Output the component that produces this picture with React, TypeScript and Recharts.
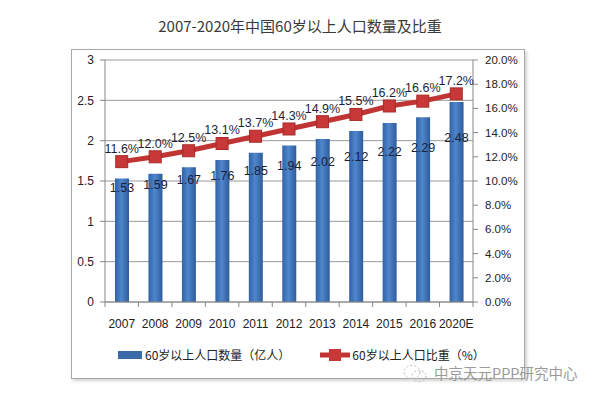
import {
  ComposedChart,
  Bar,
  Line,
  XAxis,
  YAxis,
  CartesianGrid,
  LabelList,
} from "recharts";

const years = ["2007", "2008", "2009", "2010", "2011", "2012", "2013", "2014", "2015", "2016", "2020E"];
const population = [1.53, 1.59, 1.67, 1.76, 1.85, 1.94, 2.02, 2.12, 2.22, 2.29, 2.48];
const share = [11.6, 12.0, 12.5, 13.1, 13.7, 14.3, 14.9, 15.5, 16.2, 16.6, 17.2];
const leftTicks = [0, 0.5, 1, 1.5, 2, 2.5, 3];
const rightTicks = [0, 2, 4, 6, 8, 10, 12, 14, 16, 18, 20];

const title = "2007-2020年中国60岁以上人口数量及比重";
const barName = "60岁以上人口数量（亿人）";
const lineName = "60岁以上人口比重（%）";
const watermark = "中京天元PPP研究中心";

const data = years.map((year, i) => ({
  year,
  population: population[i],
  share: share[i],
}));

const W = 600;
const H = 400;
const margin = { top: 60, right: 77, bottom: 68, left: 70 };
const leftAxisW = 35;
const rightAxisW = 50;
const plotW = W - margin.left - margin.right - leftAxisW - rightAxisW;
const band = plotW / years.length;

const font = "'Liberation Sans', Arial, sans-serif";
const cjk = "'Noto Sans CJK SC', sans-serif";
const red = "#c03434";

const YearTick = (props: any) => {
  const { x, y, payload, index } = props;
  return (
    <g>
      <line x1={x - band / 2} x2={x - band / 2} y1={y} y2={y + 5} stroke="#888" />
      {index === years.length - 1 && (
        <line x1={x + band / 2} x2={x + band / 2} y1={y} y2={y + 5} stroke="#888" />
      )}
      <text x={x} y={y + 26} textAnchor="middle" fontSize={12} fill="#222" fontFamily={font}>
        {payload.value}
      </text>
    </g>
  );
};

const BarValue = (props: any) => {
  const { x, y, width, height, value } = props;
  const dy = Math.max(5, (height - 100) * 0.35 + 1);
  return (
    <text
      x={x + width / 2}
      y={y + dy}
      textAnchor="middle"
      dominantBaseline="central"
      fontSize={12.5}
      fill="#1b1f3a"
      fontFamily={font}
    >
      {Number(value).toFixed(2)}
    </text>
  );
};

const SquareDot = (props: any) => {
  const { cx, cy } = props;
  if (cx == null || cy == null) return null;
  return <rect x={cx - 6} y={cy - 6} width={12} height={12} fill="#c83838" stroke="#a82a2a" strokeWidth={1} />;
};

export default function App() {
  return (
    <div style={{ position: "absolute", left: 0, top: 0, width: W, height: H, background: "#fff" }}>
      <div
        style={{
          position: "absolute",
          left: 0,
          top: 16,
          width: W,
          textAlign: "center",
          fontFamily: cjk,
          fontSize: 15,
          color: "#3a3a3a",
          lineHeight: "20px",
        }}
      >
        {title}
      </div>
      <div
        style={{
          position: "absolute",
          left: 71,
          top: 49,
          width: 452,
          height: 328,
          border: "1px solid #a8a8a8",
          boxShadow: "2px 2px 3px rgba(0,0,0,0.18)",
        }}
      />
      <div style={{ position: "absolute", left: 0, top: 0 }}>
        <ComposedChart width={W} height={H} data={data} margin={margin}>
          <defs>
            <linearGradient id="barFill" x1="0" y1="0" x2="1" y2="0">
              <stop offset="0%" stopColor="#3163a6" />
              <stop offset="45%" stopColor="#4f86cc" />
              <stop offset="100%" stopColor="#2e5c9a" />
            </linearGradient>
          </defs>
          <CartesianGrid vertical={false} stroke="#9a9a9a" yAxisId="left" />
          <XAxis
            dataKey="year"
            tick={<YearTick />}
            tickLine={false}
            tickSize={0}
            tickMargin={0}
            height={30}
            stroke="#888"
            interval={0}
          />
          <YAxis
            yAxisId="left"
            domain={[0, 3]}
            ticks={leftTicks}
            width={leftAxisW}
            stroke="#888"
            tickSize={5}
            tickMargin={6}
            tick={{ fontSize: 12, fill: "#222", fontFamily: font }}
          />
          <YAxis
            yAxisId="right"
            orientation="right"
            domain={[0, 20]}
            ticks={rightTicks}
            width={rightAxisW}
            stroke="#888"
            tickSize={5}
            tickMargin={7}
            tickFormatter={(v) => `${Number(v).toFixed(1)}%`}
            tick={{ fontSize: 11.5, fill: "#222", fontFamily: font, textAnchor: "start" }}
          />
          <Bar
            yAxisId="left"
            dataKey="population"
            name={barName}
            fill="url(#barFill)"
            barSize={14}
            isAnimationActive={false}
          >
            <LabelList dataKey="population" content={<BarValue />} />
          </Bar>
          <Line
            yAxisId="right"
            dataKey="share"
            name={lineName}
            stroke={red}
            strokeWidth={5}
            dot={<SquareDot />}
            activeDot={false}
            isAnimationActive={false}
          >
            <LabelList
              dataKey="share"
              position="top"
              offset={9}
              formatter={(v: any) => `${Number(v).toFixed(1)}%`}
              style={{ fontSize: 12.5, fill: "#1b1f3a", fontFamily: font }}
            />
          </Line>
        </ComposedChart>
      </div>
      <div
        style={{
          position: "absolute",
          left: 118,
          top: 346,
          display: "flex",
          alignItems: "center",
          fontFamily: cjk,
          fontSize: 12,
          color: "#222",
          lineHeight: "18px",
        }}
      >
        <span style={{ display: "inline-block", width: 24, height: 8, background: "#3a6aa8", marginRight: 3 }} />
        <span>{barName}</span>
        <svg width={30} height={14} style={{ marginLeft: 30, marginRight: 2 }}>
          <line x1={0} x2={30} y1={7} y2={7} stroke={red} strokeWidth={5} />
          <rect x={9} y={1} width={12} height={12} fill="#c83838" />
        </svg>
        <span>{lineName}</span>
      </div>
      <div
        style={{
          position: "absolute",
          left: 402,
          top: 363,
          display: "flex",
          alignItems: "center",
          fontFamily: cjk,
          fontSize: 14.5,
          color: "#9a9a9a",
          lineHeight: "20px",
        }}
      >
        <svg width={26} height={20} style={{ marginRight: 6 }}>
          <ellipse cx={10} cy={9} rx={8} ry={6.5} fill="none" stroke="#bbb" strokeDasharray="2 2" />
          <ellipse cx={17} cy={13} rx={7} ry={5.5} fill="none" stroke="#bbb" strokeDasharray="2 2" />
        </svg>
        <span>{watermark}</span>
      </div>
    </div>
  );
}
